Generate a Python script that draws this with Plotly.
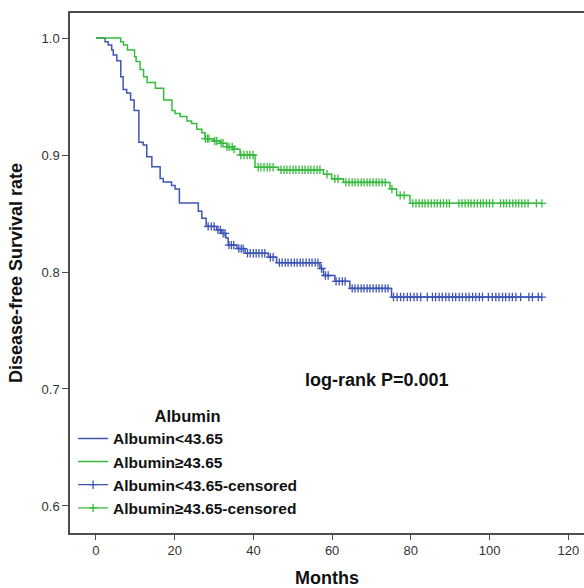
import numpy as np
import plotly.graph_objects as go

# ---------------- data ----------------
blue_name = "Albumin<43.65"
green_name = "Albumin≥43.65"
end_month = 113.3

blue_event_months = [2.3, 3.1, 4.0, 4.4, 5.3, 6.3, 6.9, 7.8, 8.8, 9.7, 10.9, 12.0, 12.9, 14.2,
                     16.3, 17.1, 19.2, 20.1, 21.2, 26.0, 26.9, 28.0, 30.7, 31.9, 33.0, 33.6,
                     35.8, 37.9, 43.8, 45.9, 56.9, 57.8, 60.7, 64.5, 75.1]
blue_surv = [0.9968, 0.9940, 0.9897, 0.9855, 0.9806, 0.9670, 0.9560, 0.9530, 0.9470, 0.9380,
             0.9110, 0.9085, 0.8986, 0.8900, 0.8800, 0.8770, 0.8740, 0.8710, 0.8590, 0.8520,
             0.8460, 0.8390, 0.8360, 0.8330, 0.8290, 0.8230, 0.8200, 0.8160, 0.8126, 0.8080,
             0.8030, 0.7970, 0.7920, 0.7860, 0.7786]
blue_censor_months = [28.5, 29.3, 30.0, 31.0, 31.6, 32.3, 32.8, 33.8, 34.4, 35.0, 36.3, 36.9, 37.4,
                      38.5, 39.2, 40.0, 40.7, 41.4, 42.2, 42.9, 44.3, 45.0, 46.6, 47.3, 48.1, 48.8,
                      49.6, 50.4, 51.1, 51.9, 52.6, 53.4, 54.2, 54.9, 55.7, 56.4, 57.3, 58.3, 59.0,
                      61.0, 61.8, 62.6, 63.3, 65.1, 65.8, 66.6, 67.4, 68.1, 68.9, 69.6, 70.4, 71.2,
                      71.9, 72.7, 73.5, 74.2, 75.6, 76.5, 77.4, 78.2, 79.1, 79.9, 80.8, 81.6, 82.5,
                      84.2, 85.5, 86.3, 87.2, 88.0, 88.9, 89.7, 90.6, 91.4, 92.3, 93.1, 94.0, 94.8,
                      95.7, 96.5, 97.4, 98.2, 99.7, 100.7, 101.6, 102.4, 103.3, 104.1, 105.0, 105.8,
                      106.7, 107.9, 110.0, 110.9, 112.4, 113.3]

green_event_months = [6.3, 7.0, 8.0, 9.8, 10.2, 11.2, 12.1, 13.0, 15.1, 17.2, 19.3, 20.1, 21.4,
                      23.1, 24.3, 25.6, 26.9, 27.7, 29.8, 31.5, 33.2, 34.9, 36.6, 40.4, 46.4,
                      57.8, 59.9, 62.9, 74.7, 76.4, 79.8]
green_surv = [0.9968, 0.9940, 0.9897, 0.9840, 0.9800, 0.9730, 0.9670, 0.9620, 0.9570, 0.9470,
              0.9380, 0.9355, 0.9330, 0.9290, 0.9270, 0.9220, 0.9190, 0.9140, 0.9120, 0.9100,
              0.9070, 0.9050, 0.9000, 0.8895, 0.8874, 0.8835, 0.8797, 0.8766, 0.8710, 0.8655,
              0.8587]
green_censor_months = [27.8, 28.3, 28.7, 30.2, 30.7, 31.8, 32.3, 33.3, 33.8, 34.6, 35.1, 36.8, 37.6,
                       38.4, 39.1, 39.9, 41.2, 41.9, 42.7, 43.5, 44.2, 45.0, 47.0, 47.8, 48.5,
                       49.3, 50.1, 50.8, 51.6, 52.4, 53.1, 53.9, 54.6, 55.4, 56.2, 56.9, 58.7,
                       60.7, 61.5, 63.5, 64.3, 65.1, 65.8, 66.6, 67.4, 68.1, 68.9, 69.6, 70.4,
                       71.2, 71.9, 72.7, 73.5, 75.2, 77.3, 78.3, 80.5, 81.3, 82.1, 82.9, 83.6,
                       84.4, 85.2, 86.0, 86.7, 87.5, 88.3, 89.1, 89.8, 92.2, 93.0, 93.8, 94.6,
                       95.3, 96.1, 96.9, 97.7, 98.4, 99.2, 100.0, 100.8, 102.8, 103.6, 104.3,
                       105.1, 105.9, 106.7, 107.4, 108.2, 109.0, 109.8, 111.9, 113.3]

x_ticks = [0, 20, 40, 60, 80, 100, 120]
y_ticks = [0.6, 0.7, 0.8, 0.9, 1.0]
y_tick_labels = ["0.6", "0.7", "0.8", "0.9", "1.0"]

BLUE = "#3f55b5"
GREEN = "#37bb3f"
FONT = "Liberation Sans"


def step_xy(times, surv):
    xs = [0.0] + list(times) + [end_month]
    ys = [1.0] + list(surv) + [surv[-1]]
    return xs, ys


def censor_xy(times, surv, cens):
    t = np.asarray(times)
    s = np.asarray([1.0] + list(surv))
    xs, ys = [], []
    for c in cens:
        idx = np.searchsorted(t, c, side="right")
        xs += [c, None]
        ys += [float(s[idx]), None]
    return xs, ys


fig = go.Figure()
bx, by = step_xy(blue_event_months, blue_surv)
gx, gy = step_xy(green_event_months, green_surv)
fig.add_trace(go.Scatter(x=bx, y=by, mode="lines", line=dict(color=BLUE, width=1.5, shape="hv"),
                         name=blue_name))
fig.add_trace(go.Scatter(x=gx, y=gy, mode="lines", line=dict(color=GREEN, width=1.5, shape="hv"),
                         name=green_name))
bcx, bcy = censor_xy(blue_event_months, blue_surv, blue_censor_months)
gcx, gcy = censor_xy(green_event_months, green_surv, green_censor_months)
fig.add_trace(go.Scatter(x=bcx, y=bcy, mode="lines+markers", connectgaps=False,
                         line=dict(color=BLUE, width=1.2),
                         marker=dict(symbol="cross-thin", size=6, line=dict(color=BLUE, width=1.3)),
                         name=blue_name + "-censored"))
fig.add_trace(go.Scatter(x=gcx, y=gcy, mode="lines+markers", connectgaps=False,
                         line=dict(color=GREEN, width=1.2),
                         marker=dict(symbol="cross-thin", size=6, line=dict(color=GREEN, width=1.3)),
                         name=green_name + "-censored"))

fig.add_annotation(x=71.4, y=0.708, xref="x", yref="y", text="log-rank P=0.001", showarrow=False,
                   font=dict(family=FONT, size=18, color="#111111", weight="bold"),
                   xanchor="center", yanchor="middle")

fig.update_layout(
    width=584, height=588,
    margin=dict(l=70, r=0, t=13, b=55),
    paper_bgcolor="white", plot_bgcolor="white",
    font=dict(family=FONT, color="#222222"),
    showlegend=True,
    legend=dict(
        x=0.006, y=0.255, xanchor="left", yanchor="top",
        bgcolor="rgba(0,0,0,0)",
        font=dict(family=FONT, size=15.5, color="#111111", weight="bold"),
        title=dict(text="Albumin", side="top center",
                   font=dict(family=FONT, size=16.5, color="#111111", weight="bold")),
        itemwidth=30, tracegroupgap=0,
    ),
    xaxis=dict(
        range=[-6.6, 124.0], tickvals=x_ticks, ticktext=[str(v) for v in x_ticks],
        showgrid=False, zeroline=False, showline=True, linecolor="#4d4d4d", linewidth=1.5,
        mirror=True, ticks="outside", ticklen=5, tickwidth=1.2, tickcolor="#4d4d4d",
        tickfont=dict(family=FONT, size=13, color="#333333"),
        title=dict(text="Months", standoff=15,
                   font=dict(family=FONT, size=18, color="#111111", weight="bold")),
        automargin=False,
    ),
    yaxis=dict(
        range=[0.5769, 1.0214], tickvals=y_ticks, ticktext=y_tick_labels,
        showgrid=False, zeroline=False, showline=True, linecolor="#4d4d4d", linewidth=1.5,
        mirror=False, ticks="outside", ticklen=6, tickwidth=1.2, tickcolor="#4d4d4d",
        tickfont=dict(family=FONT, size=13, color="#333333"),
        title=dict(text="Disease-free Survival rate", standoff=14,
                   font=dict(family=FONT, size=18, color="#111111", weight="bold")),
        automargin=False,
    ),
)

# remove the browser's default page margin so the figure fills the window exactly
fig.write_html("out.html", config={"displayModeBar": False},
               post_script="document.body.style.margin='0';document.body.style.overflow='hidden';")
